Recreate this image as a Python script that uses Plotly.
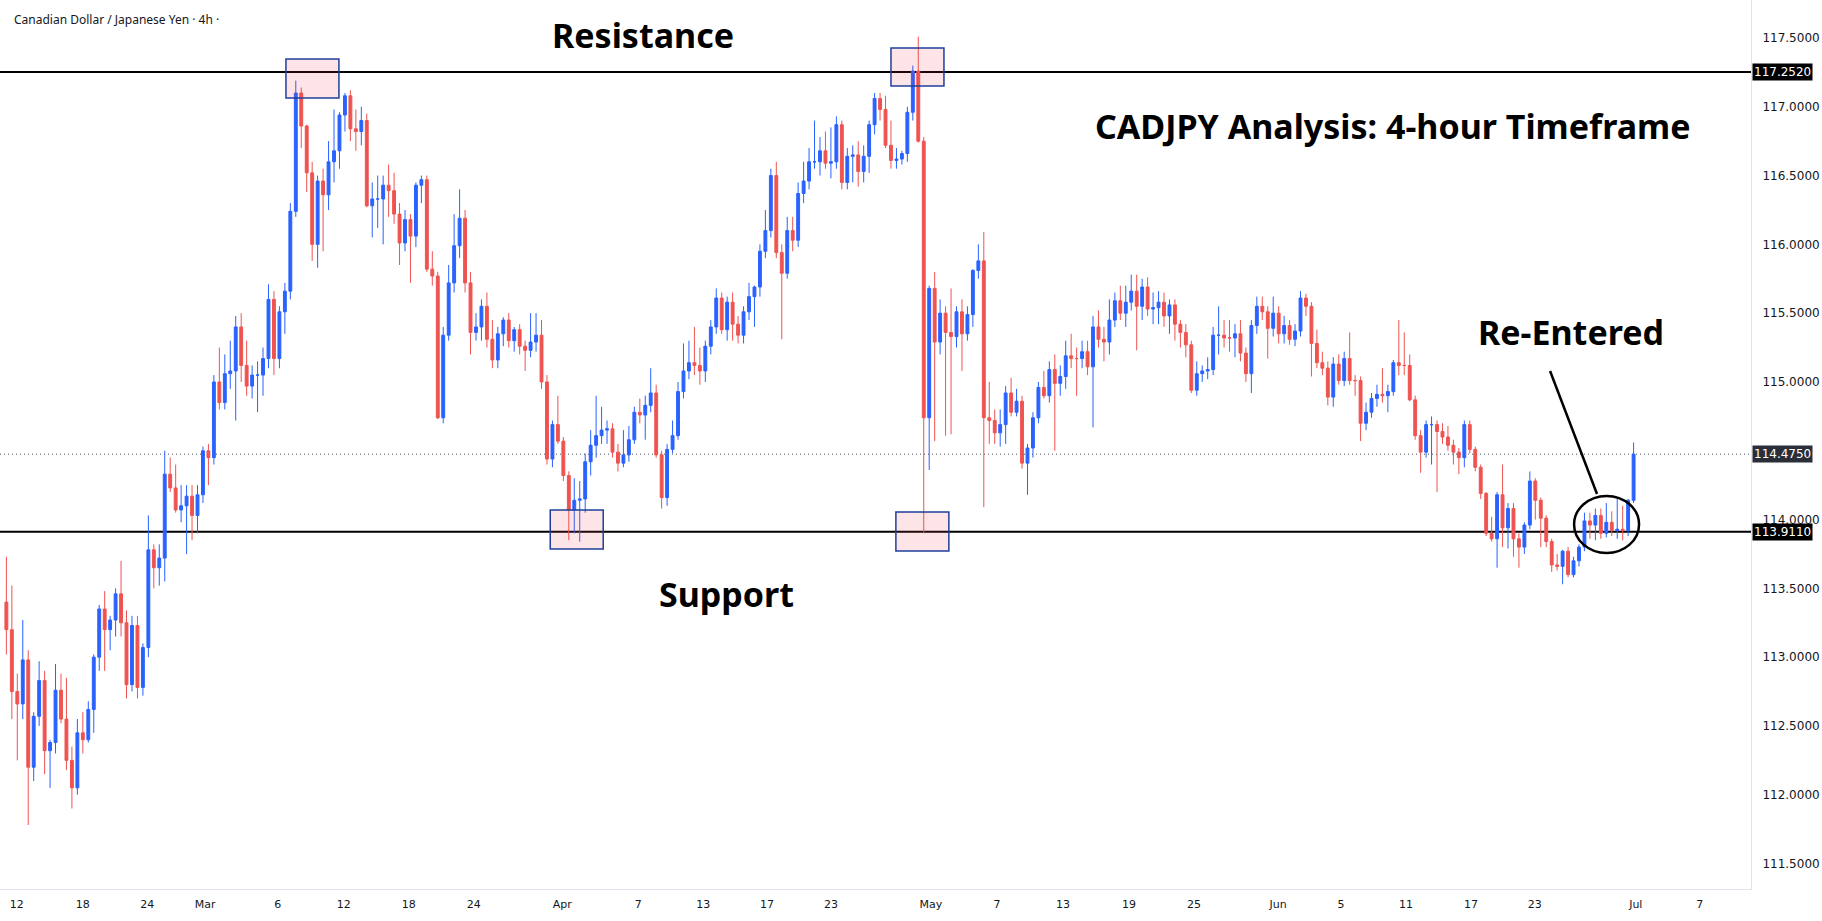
import plotly.graph_objects as go

# ---- OHLC data (8-hour resolution) ----
first_open = 113.40
closes = [
113.20,112.75,112.66,112.98,112.20,112.57,112.83,112.32,112.38,112.76,
112.55,112.25,112.05,112.45,112.40,112.62,113.00,113.35,113.20,113.27,
113.46,113.25,112.80,113.23,112.78,113.07,113.78,113.65,113.72,114.33,
114.23,114.07,114.10,114.17,114.03,114.18,114.50,114.45,115.00,114.85,
115.06,115.08,115.40,115.12,114.97,115.05,115.05,115.17,115.60,115.17,
115.51,115.66,116.24,117.10,116.86,116.52,116.00,116.46,116.36,116.60,
116.68,116.94,117.08,116.84,116.82,116.90,116.28,116.33,116.33,116.43,
116.39,116.22,116.01,116.18,116.06,116.43,116.47,115.82,115.77,114.74,
115.34,115.72,115.99,116.19,115.72,115.36,115.40,115.55,115.31,115.16,
115.35,115.45,115.30,115.38,115.26,115.23,115.29,115.34,115.00,114.44,
114.69,114.57,114.32,114.07,114.14,114.15,114.42,114.54,114.61,114.65,
114.66,114.49,114.41,114.47,114.58,114.78,114.76,114.83,114.92,114.47,
114.16,114.51,114.61,114.93,115.08,115.14,115.12,115.08,115.26,115.40,
115.61,115.38,115.58,115.42,115.34,115.51,115.62,115.69,115.95,116.10,
116.50,115.94,115.79,116.10,116.03,116.37,116.46,116.60,116.60,116.68,
116.59,116.60,116.87,116.45,116.64,116.65,116.53,116.64,116.87,117.06,
116.98,116.72,116.61,116.62,116.66,116.96,117.26,116.75,114.74,115.68,
115.29,115.50,115.36,115.33,115.51,115.35,115.49,115.81,115.88,114.74,
114.72,114.63,114.69,114.92,114.78,114.86,114.41,114.52,114.74,114.96,
114.90,115.09,114.99,115.04,115.19,115.17,115.17,115.22,115.11,115.40,
115.31,115.29,115.45,115.59,115.50,115.58,115.66,115.55,115.69,115.53,
115.54,115.58,115.48,115.56,115.42,115.36,115.27,114.94,115.06,115.08,
115.09,115.34,115.34,115.32,115.32,115.35,115.21,115.06,115.41,115.55,
115.51,115.39,115.50,115.35,115.41,115.31,115.37,115.61,115.55,115.28,
115.14,115.10,114.89,115.13,115.01,115.17,115.01,115.01,114.70,114.78,
114.88,114.91,114.90,114.93,115.14,115.12,115.12,114.87,114.61,114.49,
114.69,114.69,114.64,114.60,114.54,114.49,114.45,114.69,114.51,114.38,
114.19,113.90,113.86,114.18,113.94,114.08,113.86,113.80,113.96,114.28,
114.14,114.01,113.84,113.67,113.66,113.77,113.60,113.70,113.80,113.99,
113.96,114.03,113.90,113.98,113.92,113.93,113.92,114.14,114.475,
]
highs = [
113.73,113.52,112.88,113.27,113.05,112.60,112.97,112.90,112.40,112.95,
112.88,112.85,112.35,112.55,112.60,112.68,113.02,113.38,113.48,113.30,
113.50,113.70,113.34,113.30,113.30,113.10,114.03,113.82,113.82,114.50,
114.45,114.40,114.25,114.25,114.25,114.25,114.53,114.55,115.05,115.25,
115.20,115.30,115.48,115.50,115.30,115.12,115.15,115.25,115.71,115.66,
115.55,115.72,116.30,117.19,117.14,116.87,116.60,116.50,116.55,116.75,
116.98,116.96,117.10,117.12,116.98,117.00,116.95,116.45,116.50,116.50,
116.58,116.52,116.30,116.25,116.22,116.45,116.50,116.50,115.95,115.80,
115.40,115.85,116.22,116.40,116.25,115.80,115.50,115.60,115.65,115.45,
115.40,115.47,115.50,115.40,115.42,115.30,115.50,115.50,115.45,115.05,
114.72,114.90,114.60,114.35,114.30,114.28,114.48,114.65,114.90,114.82,
114.72,114.70,114.55,114.65,114.68,114.82,114.88,114.90,115.10,114.98,
114.50,114.55,114.72,115.00,115.28,115.30,115.40,115.25,115.30,115.45,
115.68,115.65,115.62,115.65,115.48,115.55,115.72,115.70,116.00,116.25,
116.55,116.60,116.00,116.20,116.20,116.45,116.60,116.70,116.90,116.78,
116.82,116.85,116.93,116.90,116.70,116.72,116.75,116.72,116.90,117.10,
117.10,117.08,116.90,116.70,116.68,117.00,117.30,117.51,116.78,115.70,
115.80,115.60,115.55,115.68,115.55,115.60,115.55,115.82,116.00,116.09,
115.00,114.80,114.80,114.97,115.03,114.95,114.90,114.55,114.78,115.00,
115.08,115.15,115.20,115.12,115.30,115.35,115.25,115.30,115.30,115.48,
115.52,115.40,115.60,115.65,115.70,115.70,115.78,115.78,115.75,115.76,
115.65,115.66,115.65,115.60,115.60,115.45,115.42,115.30,115.15,115.12,
115.18,115.40,115.55,115.45,115.45,115.42,115.45,115.25,115.45,115.62,
115.62,115.55,115.62,115.55,115.48,115.45,115.42,115.66,115.64,115.58,
115.38,115.22,115.15,115.18,115.20,115.22,115.36,115.05,115.04,114.85,
114.92,114.98,115.10,114.98,115.16,115.45,115.36,115.20,114.90,114.65,
114.72,114.75,114.72,114.70,114.68,114.58,114.52,114.72,114.72,114.53,
114.40,114.20,114.02,114.20,114.40,114.12,114.12,113.90,113.98,114.35,
114.30,114.16,114.03,113.86,113.75,113.78,113.80,113.73,113.82,114.05,
114.05,114.08,114.08,114.12,114.06,114.15,114.10,114.15,114.56,
]
lows = [
113.02,112.55,112.25,112.55,111.78,112.10,112.50,112.15,112.05,112.30,
112.52,112.18,111.90,112.00,112.30,112.38,112.45,112.90,112.90,113.05,
113.15,113.15,112.70,112.75,112.70,112.72,113.00,113.50,113.52,113.55,
114.20,114.05,113.98,113.75,113.85,113.90,114.12,114.25,114.40,114.80,
114.80,114.95,114.72,115.00,114.90,114.88,114.78,114.90,115.10,115.05,
115.10,115.35,115.60,116.20,116.70,116.38,115.88,115.83,115.95,116.25,
116.45,116.55,116.82,116.75,116.68,116.72,116.27,116.05,116.12,116.00,
116.20,116.15,115.85,115.95,115.72,115.98,116.30,115.80,115.70,114.73,
114.70,115.30,115.65,115.90,115.65,115.20,115.30,115.30,115.25,115.10,
115.10,115.26,115.25,115.22,115.20,115.08,115.18,115.22,114.95,114.40,
114.38,114.55,114.28,113.85,113.90,113.84,114.05,114.32,114.45,114.55,
114.55,114.45,114.35,114.38,114.42,114.55,114.70,114.58,114.78,114.45,
114.08,114.10,114.48,114.58,114.88,115.02,115.05,114.98,115.00,115.20,
115.35,115.35,115.30,115.30,115.28,115.28,115.45,115.40,115.62,115.90,
116.05,115.90,115.31,115.75,115.95,115.98,116.30,116.40,116.55,116.50,
116.55,116.48,116.55,116.40,116.40,116.45,116.42,116.45,116.52,116.80,
116.90,116.70,116.55,116.55,116.58,116.60,116.90,116.74,113.90,114.36,
114.57,115.20,114.61,114.62,115.25,115.08,115.30,115.40,115.75,114.09,
114.55,114.55,114.53,114.55,114.75,114.75,114.37,114.18,114.45,114.70,
114.88,114.85,114.50,114.90,114.95,115.10,114.90,115.10,115.05,114.67,
115.25,115.15,115.20,115.40,115.45,115.40,115.52,115.23,115.45,115.48,
115.42,115.42,115.40,115.35,115.30,115.25,115.18,114.92,114.90,115.00,
115.02,115.05,115.20,115.25,115.22,115.18,115.15,115.00,114.92,115.35,
115.45,115.17,115.33,115.28,115.28,115.27,115.26,115.33,115.48,115.04,
115.10,115.05,114.83,114.82,114.98,114.97,114.98,114.90,114.57,114.65,
114.74,114.82,114.85,114.78,114.90,115.05,115.05,114.86,114.58,114.34,
114.45,114.40,114.20,114.55,114.50,114.40,114.33,114.38,114.48,114.35,
114.15,113.88,113.84,113.65,113.80,113.79,113.73,113.65,113.75,113.93,
114.00,113.80,113.80,113.62,113.63,113.53,113.58,113.58,113.66,113.77,
113.86,113.85,113.86,113.87,113.88,113.86,113.85,113.88,114.12,
]
# open of each candle = close of the previous one (as on the chart)
opens = [first_open] + closes[:-1]
candle_idx = list(range(len(closes)))

tick_pos = [1.9, 14.0, 25.8, 36.4, 49.7, 61.8, 73.7, 85.6, 101.8, 115.7, 127.6,
            139.3, 151.0, 169.3, 181.4, 193.5, 205.6, 217.5, 232.9, 244.4, 256.3,
            268.2, 279.9, 298.4, 310.1]
tick_text = ["12", "18", "24", "Mar", "6", "12", "18", "24", "Apr", "7", "13",
             "17", "23", "May", "7", "13", "19", "25", "Jun", "5", "11",
             "17", "23", "Jul", "7"]
# 114.5 is hidden behind the last-price label on the chart
price_ticks = [111.5, 112.0, 112.5, 113.0, 113.5, 114.0, 115.0,
               115.5, 116.0, 116.5, 117.0, 117.5]

resistance = 117.252
support = 113.911
last_price = 114.475

UP = "#2962ff"
DOWN = "#ef5350"

fig = go.Figure()
fig.add_trace(go.Candlestick(
    x=candle_idx, open=opens, high=highs, low=lows, close=closes,
    increasing=dict(line=dict(color=UP, width=1), fillcolor=UP),
    decreasing=dict(line=dict(color=DOWN, width=1), fillcolor=DOWN),
    whiskerwidth=0, showlegend=False, hoverinfo="skip",
))

shapes = []
for lvl in (resistance, support):
    shapes.append(dict(type="line", xref="paper", x0=0, x1=1, yref="y", y0=lvl, y1=lvl,
                       line=dict(color="#000000", width=2), layer="below"))
shapes.append(dict(type="line", xref="paper", x0=0, x1=1, yref="y", y0=last_price, y1=last_price,
                   line=dict(color="#50535e", width=1, dash="1px,3px"), layer="below"))
boxes = [(51.2, 60.9, 117.064, 117.347), (99.6, 109.3, 113.786, 114.070),
         (162.0, 171.7, 117.151, 117.427), (162.9, 172.6, 113.772, 114.055)]
for x0, x1, y0, y1 in boxes:
    shapes.append(dict(type="rect", xref="x", yref="y", x0=x0, x1=x1, y0=y0, y1=y1,
                       fillcolor="rgba(242,54,69,0.13)",
                       line=dict(color="#1f3f9a", width=1.5), layer="above"))
shapes.append(dict(type="circle", xref="x", yref="y", x0=287.1, x1=299.0, y0=113.757, y1=114.172,
                   line=dict(color="#000000", width=2.5), layer="above"))
shapes.append(dict(type="line", xref="x", yref="y", x0=282.7, y0=115.080, x1=291.3, y1=114.186,
                   line=dict(color="#000000", width=2.5), layer="above"))

big = dict(family="Noto Sans", size=34, color="#000000", weight=700)
annotations = [
    dict(x=116.6, y=117.525, text="Resistance"),
    dict(x=131.8, y=113.459, text="Support"),
    dict(x=253.9, y=116.860, text="CADJPY Analysis: 4-hour Timeframe"),
    dict(x=286.6, y=115.363, text="Re-Entered"),
]
for a in annotations:
    a.update(xref="x", yref="y", showarrow=False, font=big, xanchor="center", yanchor="middle")

lab_font = dict(family="DejaVu Sans", size=12, color="#ffffff")
for val, bg in ((resistance, "#000000"), (last_price, "#2a2e39"), (support, "#000000")):
    annotations.append(dict(xref="paper", x=1, xanchor="left", yref="y", y=val,
                            yanchor="middle", text=f"{val:.4f}", showarrow=False,
                            bgcolor=bg, font=lab_font, borderpad=1, xshift=1))

annotations.append(dict(xref="paper", yref="paper", x=0.0068, y=0.978, xanchor="left",
                        yanchor="middle", showarrow=False,
                        text="Canadian Dollar / Japanese Yen · 4h ·",
                        font=dict(family="Noto Sans", size=12, color="#131722")))

fig.update_layout(
    width=1822, height=921,
    margin=dict(l=0, r=71, t=0, b=32),
    paper_bgcolor="#ffffff", plot_bgcolor="#ffffff",
    shapes=shapes, annotations=annotations,
    boxgap=0.25,
    xaxis=dict(range=[-1.17, 319.5], rangeslider=dict(visible=False),
               tickmode="array", tickvals=tick_pos, ticktext=tick_text,
               showgrid=False, zeroline=False, showline=True, linecolor="#e0e3eb",
               ticks="", tickfont=dict(family="DejaVu Sans", size=11, color="#131722"),
               ticklabelstandoff=5, automargin=False, fixedrange=True),
    yaxis=dict(range=[111.315, 117.776], side="right",
               tickmode="array", tickvals=price_ticks,
               ticktext=[f"{v:.4f}" for v in price_ticks],
               showgrid=False, zeroline=False, showline=True, linecolor="#e0e3eb",
               mirror=True, ticks="", ticklabelstandoff=8,
               tickfont=dict(family="DejaVu Sans", size=12, color="#131722"),
               automargin=False, fixedrange=True),
)

fig.write_html("out.html")
